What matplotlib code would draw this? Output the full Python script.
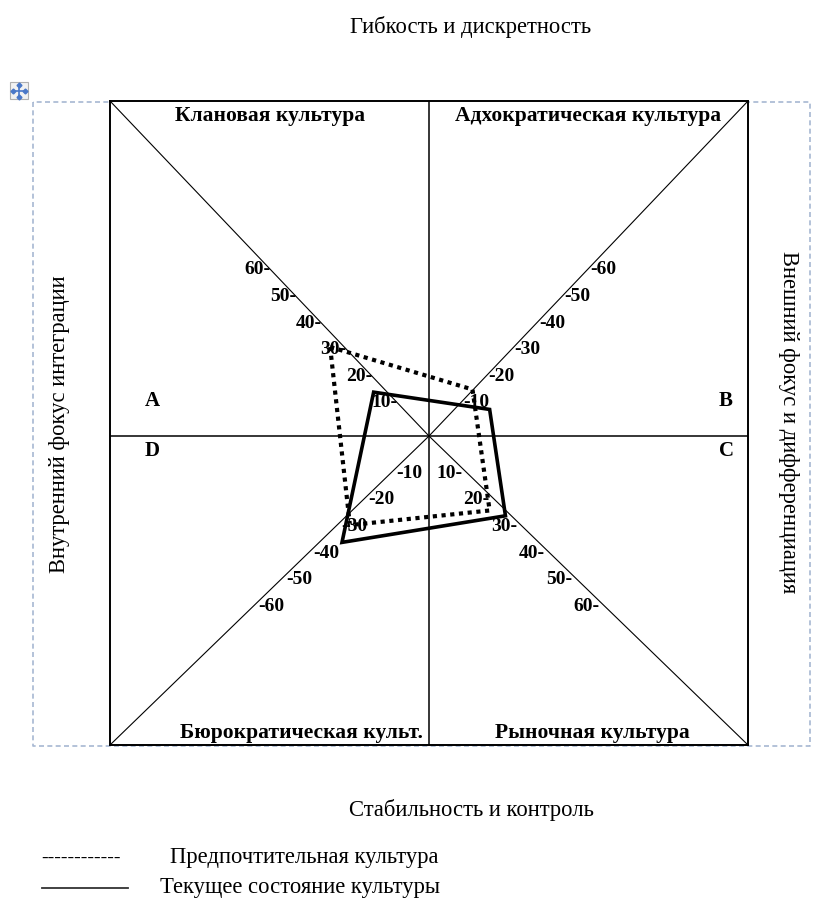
import matplotlib
matplotlib.use('Agg')
import matplotlib.pyplot as plt
from matplotlib.patches import Rectangle

plt.rcParams['font.family'] = ['Liberation Serif', 'DejaVu Serif']

# данные: вершины многоугольников (в единицах шкалы)
current_x = [-21, 23, 29, -33]
current_y = [16.5, 10, -30, -40]
preferred_x = [-37.5, 16.5, 23, -30]
preferred_y = [33.5, 17.5, -28, -33.5]

ticks = [10, 20, 30, 40, 50, 60]
quadrant_names = ['Клановая культура', 'Адхократическая культура',
                  'Бюрократическая культ.', 'Рыночная культура']
corner_letters = ['A', 'B', 'C', 'D']
title_top = 'Гибкость и дискретность'
title_bottom = 'Стабильность и контроль'
title_left = 'Внутренний фокус интеграции'
title_right = 'Внешний фокус и дифференциация'
legend_labels = ['Предпочтительная культура', 'Текущее состояние культуры']

W, H = 814, 900
fig = plt.figure(figsize=(W / 100, H / 100), dpi=100)

# фоновая ось в пикселях
bg = fig.add_axes([0, 0, 1, 1])
bg.set_xlim(0, W)
bg.set_ylim(H, 0)
bg.axis('off')

# рамка таблицы Word
frame_col = '#a7b8d2'
bg.plot([33, 33, 810, 810, 33], [102, 746, 746, 102, 102], color=frame_col,
        lw=1.2, ls=(0, (3, 2)))
bg.add_patch(Rectangle((10, 82), 18, 17, fc='#f2f2f2', ec='#b0b0b0', lw=0.8))
bg.plot([13, 25], [90.5, 90.5], color='#4a78c8', lw=1.2)
bg.plot([19, 19], [84.5, 96.5], color='#4a78c8', lw=1.2)
bg.plot([13, 25, 19, 19], [90.5, 90.5, 84.5, 96.5], ls='none', marker='D',
        ms=2.5, color='#4a78c8')

# основная диаграмма (центр креста не посередине по вертикали)
ax = fig.add_axes([110 / W, 1 - 745 / H, 638 / W, 644 / H])
xl, yt, yb = 121, 126, 116.2
ax.set_xlim(-xl, xl)
ax.set_ylim(-yb, yt)
ax.set_xticks([])
ax.set_yticks([])
for s in ax.spines.values():
    s.set_linewidth(1.4)

for cx, cy in [(-xl, yt), (xl, yt), (-xl, -yb), (xl, -yb)]:
    ax.plot([0, cx], [0, cy], color='black', lw=0.8)
ax.axhline(0, color='black', lw=1.1)
ax.axvline(0, color='black', lw=1.1)

# подписи делений на диагоналях
tfs = 14
for t in ticks:
    m = t + 2.5
    x = m * xl / yt
    ax.text(-x, m, f'{t}-', ha='right', va='center', fontsize=tfs, fontweight='bold')
    ax.text(x + 1, m, f'-{t}', ha='left', va='center', fontsize=tfs, fontweight='bold')
    m = t + 4
    x = m * xl / yb
    ax.text(-x + 2, -m, f'-{t}', ha='left', va='center', fontsize=tfs, fontweight='bold')
    ax.text(x - 2, -m, f'{t}-', ha='right', va='center', fontsize=tfs, fontweight='bold')

ax.fill(preferred_x, preferred_y, fill=False, ec='black', lw=3, ls=(0, (1, 1.1)))
ax.fill(current_x, current_y, fill=False, ec='black', lw=2.6, joinstyle='miter')

# надписи поверх всего
top = fig.add_axes([0, 0, 1, 1])
top.set_xlim(0, W)
top.set_ylim(H, 0)
top.axis('off')

qfs = 15.5
top.text(270, 116, quadrant_names[0], ha='center', va='center', fontsize=qfs, fontweight='bold')
top.text(588, 116, quadrant_names[1], ha='center', va='center', fontsize=qfs, fontweight='bold')
top.text(302, 733, quadrant_names[2], ha='center', va='center', fontsize=qfs, fontweight='bold')
top.text(592, 733, quadrant_names[3], ha='center', va='center', fontsize=qfs, fontweight='bold')

for letter, (x, y) in zip(corner_letters, [(152, 401), (726, 401), (726, 451), (152, 451)]):
    top.text(x, y, letter, ha='center', va='center', fontsize=15, fontweight='bold')

fs = 16.3
top.text(471, 27, title_top, ha='center', va='center', fontsize=fs)
top.text(471, 810, title_bottom, ha='center', va='center', fontsize=fs)
top.text(60, 424, title_left, ha='center', va='center', rotation=90, fontsize=fs)
top.text(788, 422, title_right, ha='center', va='center', rotation=270, fontsize=fs)

# легенда
top.text(81, 858, '------------', ha='center', va='center', fontsize=14)
top.text(304, 858, legend_labels[0], ha='center', va='center', fontsize=fs)
top.plot([42, 128], [888, 888], color='#333333', lw=1.3)
top.text(300, 887, legend_labels[1], ha='center', va='center', fontsize=fs)

fig.savefig('out.png', dpi=100)
